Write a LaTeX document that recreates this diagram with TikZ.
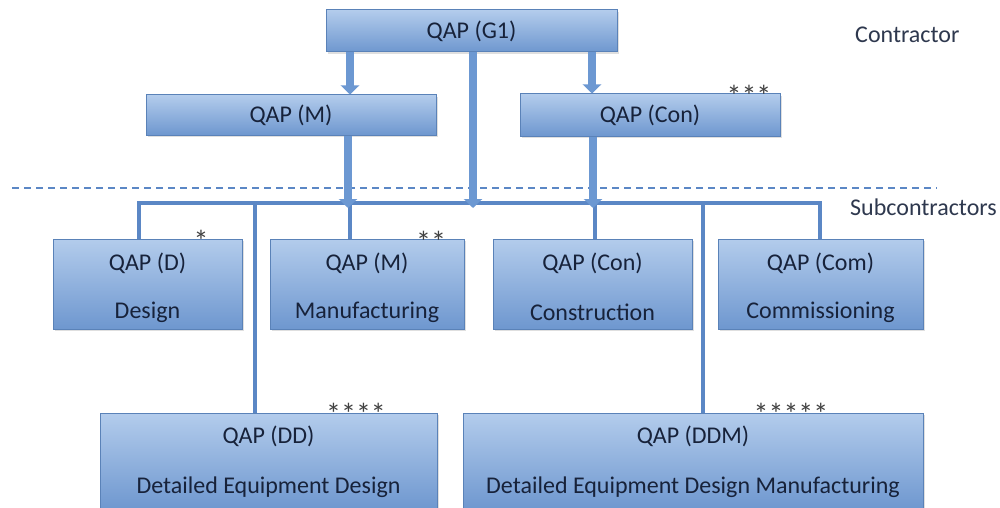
\documentclass[tikz,border=0pt]{standalone}
\usepackage{fontspec}
\setmainfont{Carlito}
\usetikzlibrary{arrows.meta,shadows}
\definecolor{boxtop}{HTML}{B3CCEC}
\definecolor{boxbot}{HTML}{6E97CF}
\definecolor{boxline}{HTML}{5A82B8}
\definecolor{conn}{HTML}{5B87C5}
\definecolor{arr}{HTML}{6C98D2}
\definecolor{txt}{HTML}{17223A}
\tikzset{
  qbox/.style={draw=boxline, line width=1pt, top color=boxtop, bottom color=boxbot,
    inner sep=0pt, text=txt, font=\fontsize{24}{26}\selectfont, align=center,
    drop shadow={opacity=0.25, shadow xshift=2pt, shadow yshift=-2pt}},
  btxt/.style={text=txt, font=\fontsize{24}{26}\selectfont, inner sep=0pt},
  bus/.style={draw=conn, line width=4pt},
  blockarrow/.style={draw=arr, line width=8pt, -{Triangle[width=18pt,length=9pt]}},
  stars/.style={text=black!75, font=\fontsize{30}{30}\selectfont, inner sep=0pt},
  lbl/.style={text=txt!90, font=\fontsize{24}{26}\selectfont, inner sep=0pt, anchor=west}
}
\begin{document}
\begin{tikzpicture}[x=1pt,y=-1pt]
\useasboundingbox[fill=white] (0,0) rectangle (1000,508);
% boxes
\node[qbox, minimum width=291pt, minimum height=42pt] (g1) at (471.5,31) {QAP (G1)};
\node[qbox, minimum width=290pt, minimum height=40pt] (mU) at (291,115) {QAP (M)};
\node[qbox, minimum width=260pt, minimum height=42pt] (conU) at (650,115) {QAP (Con)};
\node[qbox, minimum width=189pt, minimum height=90pt] (d) at (147.5,284) {};
\node[qbox, minimum width=194pt, minimum height=90pt] (m) at (367,284) {};
\node[qbox, minimum width=199pt, minimum height=90pt] (con) at (592.5,284) {};
\node[qbox, minimum width=205pt, minimum height=90pt] (com) at (820.5,284) {};
\node[qbox, minimum width=337pt, minimum height=97pt] (dd) at (268.5,461.5) {};
\node[qbox, minimum width=460pt, minimum height=97pt] (ddm) at (693,461.5) {};
% texts inside
\node[btxt] (dt1) at (147.5,263) {QAP (D)};
\node[btxt] (dt2) at (147.5,312) {Design};
\node[btxt] (mt1) at (367,263) {QAP (M)};
\node[btxt] (mt2) at (367,312) {Manufacturing};
\node[btxt] (ct1) at (592.5,263) {QAP (Con)};
\node[btxt] (ct2) at (592.5,312) {Construction};
\node[btxt] (cm1) at (820.5,263) {QAP (Com)};
\node[btxt] (cm2) at (820.5,312) {Commissioning};
\node[btxt] (ddt1) at (268.5,436) {QAP (DD)};
\node[btxt] (ddt2) at (268.5,487) {Detailed Equipment Design};
\node[btxt] (ddmt1) at (693,436) {QAP (DDM)};
\node[btxt] (ddmt2) at (693,487) {Detailed Equipment Design Manufacturing};
% stars
\node[stars] (s1) at (749,96) {***};
\node[stars] (s2) at (201,241) {*};
\node[stars] (s3) at (431,242) {**};
\node[stars] (s4) at (356,414) {****};
\node[stars] (s5) at (791,414) {*****};
% labels
\node[lbl] (lc) at (855,35) {Contractor};
\node[lbl] (ls) at (850,207) {Subcontractors};
% dashed separator
\coordinate (dl) at (12,188);
\coordinate (dr) at (937,188);
\draw[draw=conn, line width=1.2pt, dash pattern=on 7pt off 5pt] (dl) -- (dr);
% bus
\coordinate (busL) at (139,203);
\coordinate (busR) at (820,203);
\coordinate (xm) at (350,0);
\coordinate (xc) at (595,0);
\coordinate (xdd) at (255,0);
\coordinate (xddm) at (703,0);
\draw[bus] (d.north -| busL) -- (busL) -- (busR) -- (com.north -| busR);
\draw[bus] (busL -| xm) -- (m.north -| xm);
\draw[bus] (busL -| xc) -- (con.north -| xc);
\draw[bus] (busL -| xdd) -- (dd.north -| xdd);
\draw[bus] (busL -| xddm) -- (ddm.north -| xddm);
% arrows
\coordinate (a1) at (350,0);
\coordinate (a2) at (592,0);
\coordinate (a3) at (473,0);
\coordinate (a4) at (348,0);
\coordinate (a5) at (593,0);
\coordinate (bt) at (0,208);
\draw[blockarrow] (g1.south -| a1) -- (mU.north -| a1);
\draw[blockarrow] (g1.south -| a2) -- (conU.north -| a2);
\draw[blockarrow] (g1.south -| a3) -- (bt -| a3);
\draw[blockarrow] (mU.south -| a4) -- (bt -| a4);
\draw[blockarrow] (conU.south -| a5) -- (bt -| a5);
\end{tikzpicture}
\end{document}
